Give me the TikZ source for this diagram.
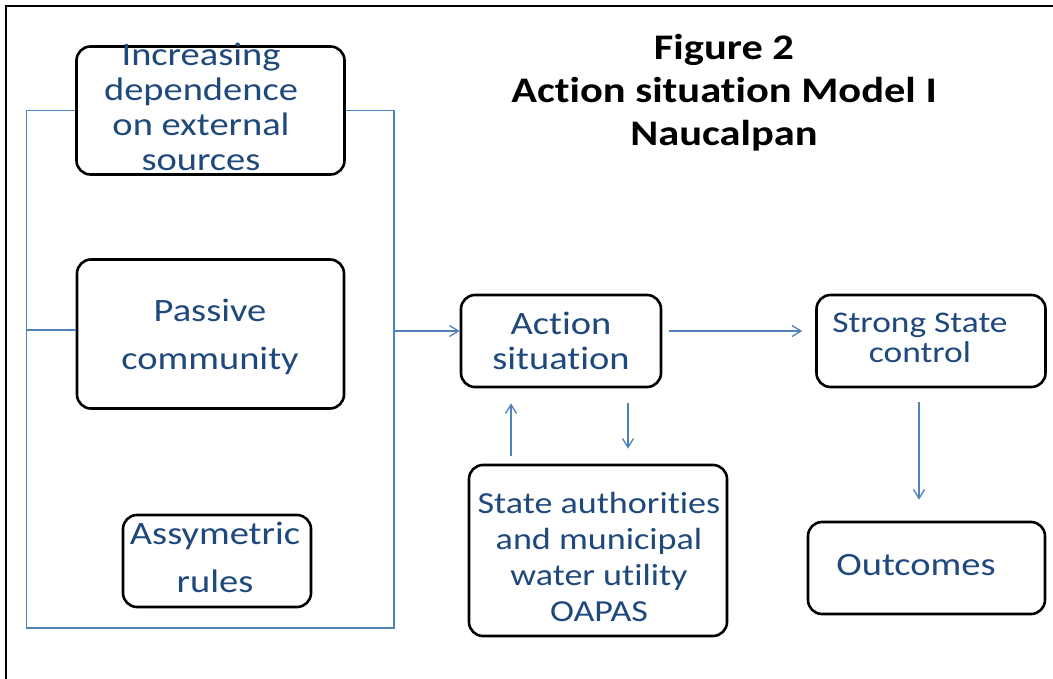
\documentclass[tikz,border=0pt]{standalone}
\usepackage{fontspec}
\setmainfont{Carlito}[FakeStretch=1.18,Ligatures=NoCommon]
\usetikzlibrary{arrows.meta,positioning}
\definecolor{txtblue}{RGB}{31,73,125}
\definecolor{lineblue}{RGB}{79,129,189}

\begin{document}
\begin{tikzpicture}[x=1pt,y=-1pt,
    box/.style={draw,line width=2.6pt,rounded corners=14pt,fill=white,inner sep=0pt},
    txt/.style={text=txtblue,align=center,inner sep=0pt,font=\fontsize{32.6}{35}\selectfont},
    wide/.style={font=\fontsize{32.6}{48}\selectfont},
    title/.style={align=center,inner sep=0pt,font=\bfseries\fontsize{36}{43}\selectfont},
    link/.style={draw=lineblue,line width=1.3pt},
    arr/.style={link,-{Straight Barb[length=9pt,width=11pt]}}]
    \useasboundingbox (0,0) rectangle (1053,679);
    % frame, cut off on the right and at the bottom
    \draw[line width=2pt] (5.5,679) -- (5.5,6) -- (1053,6);
    % points of the bracket
    \coordinate (bl) at (26.5,628);
    \coordinate (br) at (394,628);
    \coordinate (in) at (394,331);
    \coordinate (upx) at (511,0);
    \coordinate (dnx) at (628,0);
    \coordinate (ocx) at (919,0);
    % left column
    \draw[link] (26.5,110.5) -- (bl) -- (br) -- (394,110.5);
    \node[box, minimum width=268pt, minimum height=128pt] (dep) at (210.5,110.5) {};
    \node[box, minimum width=267pt, minimum height=149pt] (pass) at (210.5,334) {};
    \node[box, minimum width=188pt, minimum height=92pt] (rules) at (217,561) {};
    \node[txt] (depT) at (201,107) {Increasing\\dependence\\on external\\sources};
    \node[txt, wide] (passT) at (210,336.5) {Passive\\community};
    \node[txt, wide] (rulesT) at (215,557) {Assymetric\\rules};
    % middle and right
    \node[box, minimum width=200pt, minimum height=92pt] (act) at (561,341) {};
    \node[box, minimum width=258pt, minimum height=171pt] (state) at (598,550.5) {};
    \node[box, minimum width=229pt, minimum height=92pt] (strong) at (931,341) {};
    \node[box, minimum width=237pt, minimum height=92pt] (out) at (926.5,568) {};
    \node[txt] (actT) at (561,341) {Action\\situation};
    \node[txt, font=\fontsize{30.6}{36}\selectfont] (stateT) at (599,557) {State authorities\\and municipal\\water utility\\OAPAS};
    \node[txt, font=\fontsize{30}{30}\selectfont] (strongT) at (920,338) {Strong State\\control};
    \node[txt] (outT) at (916,565) {Outcomes};
    \node[title] (ttl) at (724,93) {Figure 2\\Action situation Model I\\Naucalpan};
    % connectors
    \draw[link] (dep.west) -- (dep.west -| bl);
    \draw[link] (dep.east) -- (dep.east -| br);
    \draw[link] ([yshift=4pt]pass.west) -- ([yshift=4pt]pass.west -| bl);
    \draw[arr] (in) -- (act.west |- in);
    \draw[arr, shorten <=7pt, shorten >=13pt] (act.east |- in) -- (strong.west |- in);
    \draw[arr, shorten <=14pt, shorten >=21pt] (strong.south -| ocx) -- (out.north -| ocx);
    \draw[arr, shorten <=8pt, shorten >=15pt] (state.north -| upx) -- (act.south -| upx);
    \draw[arr, shorten <=15pt, shorten >=15pt] (act.south -| dnx) -- (state.north -| dnx);
\end{tikzpicture}
\end{document}
